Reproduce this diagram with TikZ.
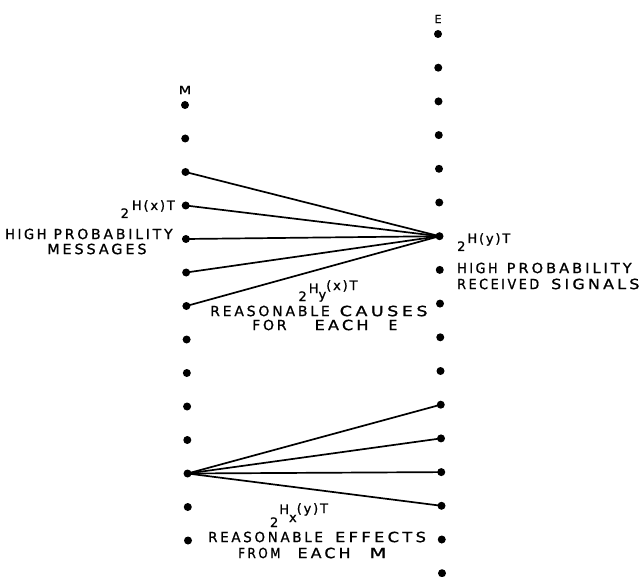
\documentclass[tikz,border=0pt]{standalone}
\usepackage{fontspec}
\newfontfamily\lblfamily{DejaVu Sans}[LetterSpace=20,FakeBold=1]
\newfontfamily\supfamily{DejaVu Sans}[LetterSpace=14,FakeBold=1]
\newcommand{\lblfont}{\lblfamily\fontsize{14}{15}\selectfont}
\newcommand{\supfont}{\supfamily\fontsize{13}{14}\selectfont}
\newcommand{\colfont}{\supfamily\fontsize{11}{12}\selectfont}
\newcommand{\wsc}[2]{\scalebox{#1}[1]{#2}}
\begin{document}
\begin{tikzpicture}[x=1pt,y=-1pt,
  dot/.style={circle,fill=black,inner sep=0pt,minimum size=8pt},
  link/.style={line width=1.7pt},
  lbl/.style={inner sep=0pt,font=\lblfont,anchor=west},
  sup/.style={inner sep=0pt,font=\supfont},
  col/.style={inner sep=0pt,font=\colfont}]
\useasboundingbox (0,0) rectangle (642,577);
% columns of dots
\foreach \j in {0,...,13} \node[dot] (m\j) at ({185+3*\j/13},{105+33.5*\j}) {};
\foreach \i in {0,...,16} \node[dot] (e\i) at ({438+4*\i/16},{34+33.7*\i}) {};
\node[col] (mlab) at (185,90) {\wsc{1.3}{M}};
\node[col] (elab) at (438,19) {E};
% fans
\foreach \j in {2,...,6} \draw[link] (e6.center) -- (m\j.center);
\foreach \i in {11,...,14} \draw[link] (m11.center) -- (e\i.center);
% left labels
\node[sup,anchor=base east] (hx) at (175,218) {2\hspace{3pt}\raisebox{8pt}{H(x)T}};
\node[lbl] (hpm1) at (5,234) {\wsc{0.93}{HIGH}\hspace{7pt}PROBABILITY};
\node[lbl] (hpm2) at (47,249) {\wsc{1.03}{MESSAGES}};
% right labels
\node[sup,anchor=base west] (hy) at (457,251) {2\hspace{2pt}\raisebox{8pt}{H(y)T}};
\node[lbl] (hpr1) at (457,268) {\wsc{0.91}{HIGH}\hspace{9pt}\wsc{1.05}{PROBABILITY}};
\node[lbl] (hpr2) at (457,284) {\wsc{0.91}{RECEIVED}\hspace{12pt}\wsc{1.14}{SIGNALS}};
% middle labels
\node[sup,anchor=base] (hyx) at (328,301) {2\hspace{2pt}\raisebox{8pt}{H}\raisebox{2pt}{y}\raisebox{11pt}{(x)T}};
\node[lbl] (rc1) at (210,311) {REASONABLE\hspace{10pt}\wsc{1.25}{CAUSES}};
\node[lbl] (rc2) at (252,325) {FOR\hspace{28pt}\wsc{1.15}{EACH}\hspace{20pt}E};
% bottom labels
\node[sup,anchor=base] (hxy) at (299,527) {2\hspace{1pt}\raisebox{13pt}{H}\raisebox{5pt}{x}\raisebox{14pt}{(y)T}};
\node[lbl] (re1) at (208,537) {\wsc{0.96}{REASONABLE}\hspace{12pt}\wsc{1.17}{EFFECTS}};
\node[lbl] (re2) at (238,553) {\wsc{0.86}{FROM}\hspace{17pt}\wsc{1.13}{EACH}\hspace{19pt}\wsc{1.4}{M}};
\end{tikzpicture}
\end{document}
